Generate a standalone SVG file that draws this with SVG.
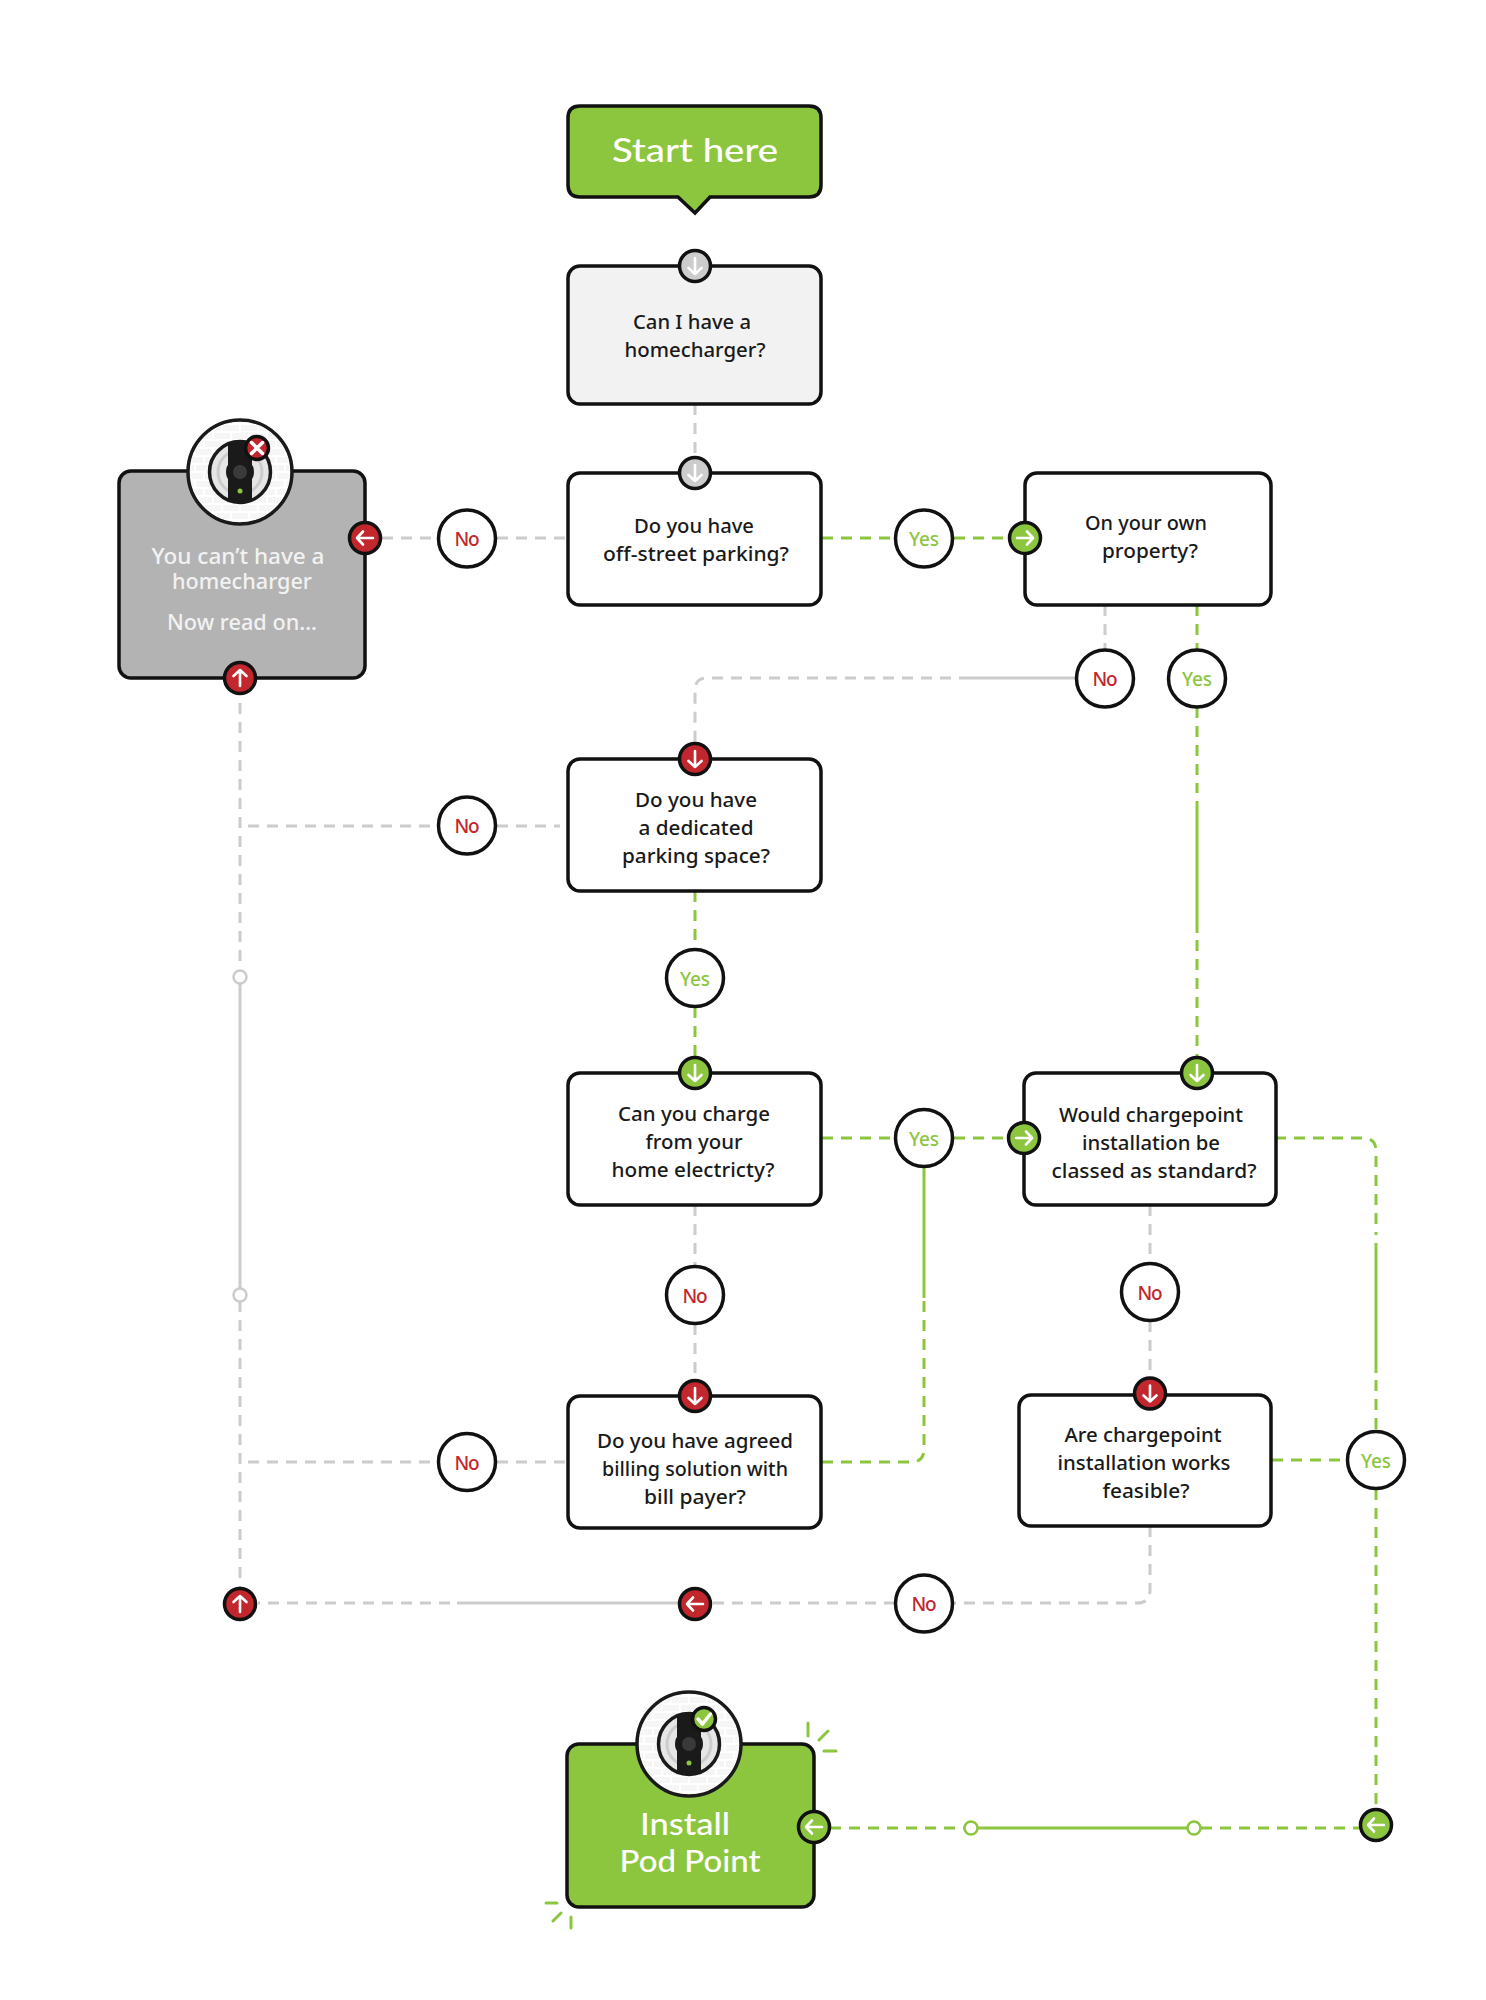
<svg xmlns="http://www.w3.org/2000/svg" width="1486" height="2000" viewBox="0 0 1486 2000">
<style>
text{font-family:"Noto Sans","Open Sans",sans-serif;font-weight:500;text-anchor:middle}
.box{stroke:#111;stroke-width:3.5}
.q{font-size:19px;fill:#1a1a1a}
.w{font-size:21px;fill:#f2f2f2}
.big{font-family:Lato,"Noto Sans",sans-serif;font-size:30px;fill:#fff}
.lab{fill:#fff;stroke:#111;stroke-width:3.5}
.no{font-size:19px;fill:#c1272d}
.yes{font-size:19px;fill:#8cc63f}
.gd{fill:none;stroke:#ccc;stroke-width:3;stroke-dasharray:11 8}
.gs{fill:none;stroke:#ccc;stroke-width:3}
.vd{fill:none;stroke:#8cc63f;stroke-width:3;stroke-dasharray:11 8}
.vs{fill:none;stroke:#8cc63f;stroke-width:3}
.ar{fill:none;stroke:#fff;stroke-width:2.6;stroke-linecap:round;stroke-linejoin:round}
.pr{fill:#c1272d;stroke:#111;stroke-width:3.5}
.pv{fill:#8cc63f;stroke:#111;stroke-width:3.5}
.pg{fill:#ccc;stroke:#111;stroke-width:3.5}
.sm-g{fill:#fff;stroke:#ccc;stroke-width:2.5}
.sm-v{fill:#fff;stroke:#8cc63f;stroke-width:2.5}
.sp{fill:none;stroke:#8cc63f;stroke-width:3;stroke-linecap:round}
</style>
<defs>
<g id="arrow"><path class="ar" d="M0-8V8M-6.500 2L0 8L6.500 2"/></g>
<pattern id="bricks" width="36" height="16" patternUnits="userSpaceOnUse">
<rect x="1" y="1" width="16" height="6" fill="#f6f6f6"/><rect x="19" y="1" width="16" height="6" fill="#f6f6f6"/>
<rect x="-8" y="9" width="16" height="6" fill="#f6f6f6"/><rect x="10" y="9" width="16" height="6" fill="#f6f6f6"/><rect x="28" y="9" width="16" height="6" fill="#f6f6f6"/>
</pattern>
<clipPath id="inner"><circle r="30"/></clipPath>
<g id="charger">
<circle r="52" fill="#fff" stroke="#1a1a1a" stroke-width="3.500"/>
<circle r="50" fill="url(#bricks)"/>
<circle r="30" fill="#e6e6e6"/>
<circle r="22" fill="none" stroke="#ccc" stroke-width="3"/>
<g clip-path="url(#inner)"><rect x="-12" y="-31" width="24" height="62" fill="#1a1a1a"/></g>
<circle r="14" fill="#1a1a1a"/>
<circle r="7" fill="#3a3a3a"/>
<circle cy="19" r="2.500" fill="#8cc63f"/>
<circle r="30.500" fill="none" stroke="#1a1a1a" stroke-width="3.500"/>
</g>
</defs>
<rect width="1486" height="2000" fill="#fff"/>
<g id="connectors">
<path class="gd" d="M695 404V455"/>
<path class="gd" d="M382 538H438M497 538H568"/>
<path class="vd" d="M822 538H894M954 538H1010"/>
<path class="gd" d="M1105 605V650"/>
<path class="gs" d="M970 678H1076"/>
<path class="gd" d="M970 678H707Q695 678 695 690V745"/>
<path class="vd" d="M1197 605V650"/>
<path class="vd" d="M1197 707V793"/>
<path class="vs" d="M1197 801V933"/>
<path class="vd" d="M1197 940V1056"/>
<path class="gd" d="M248 826H438M497 826H560"/>
<path class="vd" d="M695 891V949M695 1007V1056"/>
<path class="vd" d="M822 1138H896M954 1138H1010"/>
<path class="vd" d="M1275 1138H1363Q1376 1138 1376 1151V1235"/>
<path class="vs" d="M1376 1243V1373"/>
<path class="vd" d="M1376 1380V1431"/>
<path class="vd" d="M1376 1489V1808"/>
<path class="vd" d="M1272 1460H1347"/>
<path class="gd" d="M695 1205V1266M695 1324V1380"/>
<path class="gd" d="M1150 1205V1263M1150 1321V1377"/>
<path class="gd" d="M248 1462H438M497 1462H568"/>
<path class="vd" d="M822 1462H911Q924 1462 924 1449V1298"/>
<path class="vs" d="M924 1298V1167"/>
<path class="gd" d="M1150 1526V1590Q1150 1603 1137 1603H953"/>
<path class="gd" d="M895 1603H711"/>
<path class="gs" d="M695 1603H457"/>
<path class="gd" d="M450 1603H258"/>
<path class="gd" d="M240 703V967"/>
<path class="gs" d="M240 984V1289"/>
<path class="gd" d="M240 1301V1587"/>
<path class="vd" d="M830 1828H965"/>
<path class="vs" d="M971 1828H1195"/>
<path class="vd" d="M1201 1828H1360"/>
<circle class="sm-g" cx="240" cy="977" r="6.500"/>
<circle class="sm-g" cx="240" cy="1295" r="6.500"/>
<circle class="sm-v" cx="971" cy="1828" r="6.500"/>
<circle class="sm-v" cx="1194" cy="1828" r="6.500"/>
</g>
<g id="start">
<path class="box" fill="#8cc63f" d="M580 106H809Q821 106 821 118V185Q821 197 809 197H710L695 213L678 197H580Q568 197 568 185V118Q568 106 580 106Z"/>
<text class="big" x="695" y="162" style="font-size:33px" textLength="166" lengthAdjust="spacingAndGlyphs">Start here</text>
</g>
<g id="can-i">
<rect class="box" fill="#f2f2f2" x="568" y="266" width="253" height="138" rx="12"/>
<circle class="pg" cx="695" cy="266" r="15.500"/><use href="#arrow" x="695" y="266"/>
<text class="q" x="692" y="329" textLength="118" lengthAdjust="spacingAndGlyphs">Can I have a</text>
<text class="q" x="695" y="357" textLength="141" lengthAdjust="spacingAndGlyphs">homecharger?</text>
</g>
<g id="off-street">
<rect class="box" fill="#fff" x="568" y="473" width="253" height="132" rx="12"/>
<circle class="pg" cx="695" cy="473" r="15.500"/><use href="#arrow" x="695" y="473"/>
<text class="q" x="694" y="533" textLength="120" lengthAdjust="spacingAndGlyphs">Do you have</text>
<text class="q" x="696" y="561" textLength="186" lengthAdjust="spacingAndGlyphs">off-street parking?</text>
</g>
<g id="property">
<rect class="box" fill="#fff" x="1025" y="473" width="246" height="132" rx="12"/>
<circle class="pv" cx="1025" cy="538" r="15.500"/><use href="#arrow" transform="translate(1025 538) rotate(-90)"/>
<text class="q" x="1146" y="530" textLength="122" lengthAdjust="spacingAndGlyphs">On your own</text>
<text class="q" x="1150" y="558" textLength="96" lengthAdjust="spacingAndGlyphs">property?</text>
</g>
<g id="cannot">
<rect class="box" fill="#b3b3b3" x="119" y="471" width="246" height="207" rx="12"/>
<use href="#charger" x="240" y="472"/>
<circle class="pr" cx="257" cy="448" r="11.500" stroke-width="3"/>
<path d="M251.500 442.500L262.500 453.500M262.500 442.500L251.500 453.500" fill="none" stroke="#fff" stroke-width="3.500" stroke-linecap="round"/>
<circle class="pr" cx="365" cy="538" r="15.500"/><use href="#arrow" transform="translate(365 538) rotate(90)"/>
<circle class="pr" cx="240" cy="678" r="15.500"/><use href="#arrow" transform="translate(240 678) rotate(180)"/>
<text class="w" x="238" y="564" textLength="173" lengthAdjust="spacingAndGlyphs">You can’t have a</text>
<text class="w" x="242" y="589" textLength="140" lengthAdjust="spacingAndGlyphs">homecharger</text>
<text class="w" x="242" y="630" textLength="150" lengthAdjust="spacingAndGlyphs">Now read on...</text>
</g>
<g id="dedicated">
<rect class="box" fill="#fff" x="568" y="759" width="253" height="132" rx="12"/>
<circle class="pr" cx="695" cy="759" r="15.500"/><use href="#arrow" x="695" y="759"/>
<text class="q" x="696" y="807" textLength="122" lengthAdjust="spacingAndGlyphs">Do you have</text>
<text class="q" x="696" y="835" textLength="115" lengthAdjust="spacingAndGlyphs">a dedicated</text>
<text class="q" x="696" y="863" textLength="148" lengthAdjust="spacingAndGlyphs">parking space?</text>
</g>
<g id="home-electricity">
<rect class="box" fill="#fff" x="568" y="1073" width="253" height="132" rx="12"/>
<circle class="pv" cx="695" cy="1073" r="15.500"/><use href="#arrow" x="695" y="1073"/>
<text class="q" x="694" y="1121" textLength="152" lengthAdjust="spacingAndGlyphs">Can you charge</text>
<text class="q" x="694" y="1149" textLength="97" lengthAdjust="spacingAndGlyphs">from your</text>
<text class="q" x="693" y="1177" textLength="163" lengthAdjust="spacingAndGlyphs">home electricty?</text>
</g>
<g id="standard">
<rect class="box" fill="#fff" x="1024" y="1073" width="252" height="132" rx="12"/>
<circle class="pv" cx="1197" cy="1073" r="15.500"/><use href="#arrow" x="1197" y="1073"/>
<circle class="pv" cx="1024" cy="1138" r="15.500"/><use href="#arrow" transform="translate(1024 1138) rotate(-90)"/>
<text class="q" x="1151" y="1122" textLength="184" lengthAdjust="spacingAndGlyphs">Would chargepoint</text>
<text class="q" x="1151" y="1150" textLength="138" lengthAdjust="spacingAndGlyphs">installation be</text>
<text class="q" x="1154" y="1178" textLength="205" lengthAdjust="spacingAndGlyphs">classed as standard?</text>
</g>
<g id="billing">
<rect class="box" fill="#fff" x="568" y="1396" width="253" height="132" rx="12"/>
<circle class="pr" cx="695" cy="1396" r="15.500"/><use href="#arrow" x="695" y="1396"/>
<text class="q" x="695" y="1447.500" textLength="196" lengthAdjust="spacingAndGlyphs">Do you have agreed</text>
<text class="q" x="695" y="1475.500" textLength="186" lengthAdjust="spacingAndGlyphs">billing solution with</text>
<text class="q" x="695" y="1503.500" textLength="102" lengthAdjust="spacingAndGlyphs">bill payer?</text>
</g>
<g id="feasible">
<rect class="box" fill="#fff" x="1019" y="1395" width="252" height="131" rx="12"/>
<circle class="pr" cx="1150" cy="1393.500" r="15.500"/><use href="#arrow" x="1150" y="1393.500"/>
<text class="q" x="1143" y="1441.500" textLength="157" lengthAdjust="spacingAndGlyphs">Are chargepoint</text>
<text class="q" x="1144" y="1469.500" textLength="173" lengthAdjust="spacingAndGlyphs">installation works</text>
<text class="q" x="1146" y="1497.500" textLength="87" lengthAdjust="spacingAndGlyphs">feasible?</text>
</g>
<g id="install">
<rect class="box" fill="#8cc63f" x="567" y="1744" width="247" height="163" rx="12"/>
<use href="#charger" x="689" y="1744"/>
<circle class="pv" cx="704" cy="1719" r="11.500"/>
<path d="M698 1719L702.500 1724L710.500 1714" fill="none" stroke="#fff" stroke-width="3.500" stroke-linecap="round" stroke-linejoin="round"/>
<circle class="pv" cx="814" cy="1827" r="15.500"/><use href="#arrow" transform="translate(814 1827) rotate(90)"/>
<text class="big" x="685" y="1835" textLength="90" lengthAdjust="spacingAndGlyphs">Install</text>
<text class="big" x="690" y="1872" textLength="141" lengthAdjust="spacingAndGlyphs">Pod Point</text>
<path class="sp" d="M808 1723V1736M819 1740L828 1731M824 1751H836M546 1903H557M553 1921L561 1913M571 1917V1928"/>
</g>
<g id="merge-up"><circle class="pr" cx="240" cy="1604" r="15.500"/><use href="#arrow" transform="translate(240 1604) rotate(180)"/></g>
<g id="merge-left"><circle class="pr" cx="695" cy="1604" r="15.500"/><use href="#arrow" transform="translate(695 1604) rotate(90)"/></g>
<g id="merge-green"><circle class="pv" cx="1376" cy="1825" r="15.500"/><use href="#arrow" transform="translate(1376 1825) rotate(90)"/></g>
<g id="labels">
<g id="l1"><circle class="lab" cx="467" cy="538.500" r="28.500"/><text class="no" x="467" y="546" textLength="25">No</text></g>
<g id="l2"><circle class="lab" cx="924" cy="538.500" r="28.500"/><text class="yes" x="924" y="546" textLength="30">Yes</text></g>
<g id="l3"><circle class="lab" cx="1105" cy="678.500" r="28.500"/><text class="no" x="1105" y="686" textLength="25">No</text></g>
<g id="l4"><circle class="lab" cx="1197" cy="678.500" r="28.500"/><text class="yes" x="1197" y="686" textLength="30">Yes</text></g>
<g id="l5"><circle class="lab" cx="467" cy="825.500" r="28.500"/><text class="no" x="467" y="833" textLength="25">No</text></g>
<g id="l6"><circle class="lab" cx="695" cy="978" r="28.500"/><text class="yes" x="695" y="985.500" textLength="30">Yes</text></g>
<g id="l7"><circle class="lab" cx="924" cy="1138" r="28.500"/><text class="yes" x="924" y="1145.500" textLength="30">Yes</text></g>
<g id="l8"><circle class="lab" cx="695" cy="1295" r="28.500"/><text class="no" x="695" y="1302.500" textLength="25">No</text></g>
<g id="l9"><circle class="lab" cx="1150" cy="1292" r="28.500"/><text class="no" x="1150" y="1299.500" textLength="25">No</text></g>
<g id="l10"><circle class="lab" cx="467" cy="1462" r="28.500"/><text class="no" x="467" y="1469.500" textLength="25">No</text></g>
<g id="l11"><circle class="lab" cx="1376" cy="1460" r="28.500"/><text class="yes" x="1376" y="1467.500" textLength="30">Yes</text></g>
<g id="l12"><circle class="lab" cx="924" cy="1603.500" r="28.500"/><text class="no" x="924" y="1611" textLength="25">No</text></g>
</g>
</svg>
